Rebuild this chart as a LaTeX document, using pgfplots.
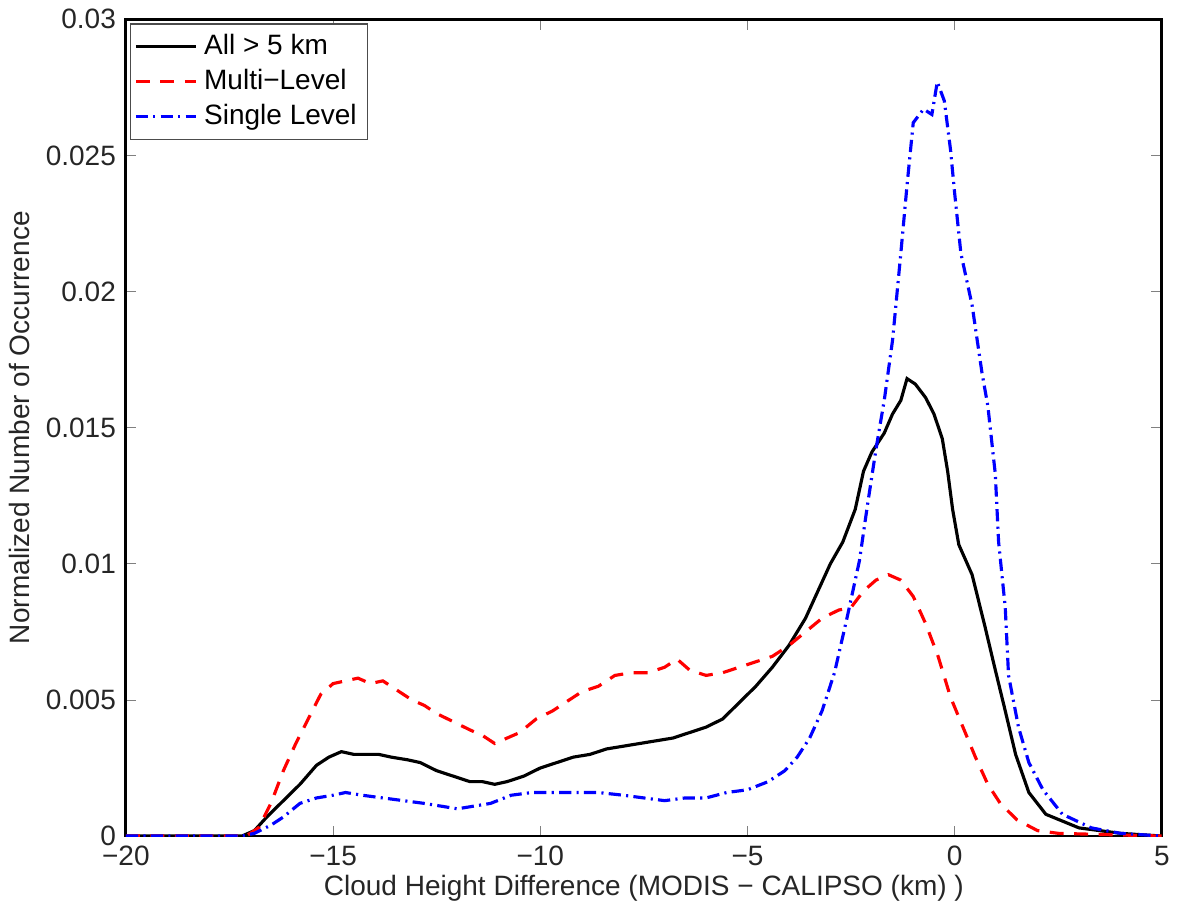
\documentclass[border=0pt]{standalone}
\usepackage{fontspec}
\setmainfont{Liberation Sans}
\usepackage{pgfplots}
\pgfplotsset{compat=1.18}

\begin{document}
\fontsize{8}{9.5}\selectfont
\begin{tikzpicture}
\begin{axis}[
    scale only axis,
    width=10.4cm,
    height=8.2cm,
    xmin=-20, xmax=5,
    ymin=0, ymax=0.03,
    scaled y ticks=false,
    xtick={-20,-15,-10,-5,0,5},
    xticklabels={−20,−15,−10,−5,0,5},
    ytick={0,0.005,0.01,0.015,0.02,0.025,0.03},
    yticklabels={0,0.005,0.01,0.015,0.02,0.025,0.03},
    tick align=inside,
    tick pos=both,
    major tick length=3pt,
    tick label style={font=\fontsize{8}{9.5}\selectfont, text=black!85},
    label style={font=\fontsize{8}{9.5}\selectfont, text=black!85},
    xlabel={Cloud Height Difference (MODIS − CALIPSO (km) )},
    ylabel={Normalized Number of Occurrence},
    xlabel style={yshift=3pt},
    ylabel style={yshift=-1pt},
    axis line style={line width=0.8pt},
    legend style={at={(0.004,0.995)}, anchor=north west, font=\fontsize{8}{9.5}\selectfont,
        draw=black!70, line width=0.4pt, inner sep=1pt, row sep=-1pt},
    legend cell align=left,
    legend image code/.code={\draw[#1] (0cm,0cm) -- (0.6cm,0cm);},
]
% All > 5 km
\addplot[black, line width=0.9pt] coordinates {
(-20,0) (-17.2,0) (-16.9,0.0002) (-16.6,0.0007) (-16.2,0.0013) (-15.8,0.0019)
(-15.4,0.0026) (-15.1,0.0029) (-14.8,0.0031) (-14.5,0.0030) (-14.2,0.0030)
(-13.9,0.0030) (-13.6,0.0029) (-13.2,0.0028) (-12.9,0.0027) (-12.5,0.0024)
(-12.1,0.0022) (-11.7,0.0020) (-11.4,0.0020) (-11.1,0.0019) (-10.8,0.0020)
(-10.4,0.0022) (-10.0,0.0025) (-9.6,0.0027) (-9.2,0.0029) (-8.8,0.0030)
(-8.4,0.0032) (-8.0,0.0033) (-7.6,0.0034) (-7.2,0.0035) (-6.8,0.0036)
(-6.4,0.0038) (-6.0,0.0040) (-5.6,0.0043) (-5.2,0.0049) (-4.8,0.0055)
(-4.4,0.0062) (-4.0,0.0070) (-3.6,0.0080) (-3.3,0.0090) (-3.0,0.0100)
(-2.7,0.0108) (-2.4,0.0120) (-2.2,0.0134) (-2.0,0.0141) (-1.7,0.0148)
(-1.5,0.0155) (-1.3,0.0160) (-1.15,0.0168) (-0.95,0.0166) (-0.7,0.0161)
(-0.5,0.0155) (-0.3,0.0146) (-0.17,0.0134) (-0.05,0.0120) (0.1,0.0107)
(0.42,0.0096) (0.73,0.0077) (0.98,0.0061) (1.22,0.0046) (1.47,0.0030)
(1.79,0.0016) (2.2,0.0008) (3.0,0.0003) (4.0,0.0001) (5,0)
};
% Multi-Level
\addplot[red, line width=0.9pt, dash pattern=on 4pt off 3pt] coordinates {
(-20,0) (-17.1,0) (-16.8,0.0003) (-16.5,0.0012) (-16.2,0.0024) (-15.9,0.0034)
(-15.6,0.0043) (-15.3,0.0052) (-15.0,0.0056) (-14.7,0.0057) (-14.4,0.0058)
(-14.1,0.0056) (-13.8,0.0057) (-13.5,0.0054) (-13.1,0.0050) (-12.8,0.0048)
(-12.5,0.0045) (-12.1,0.0042) (-11.7,0.0039) (-11.4,0.0037) (-11.1,0.0034)
(-10.8,0.0036) (-10.5,0.0038) (-10.1,0.0043) (-9.7,0.0046) (-9.3,0.0050)
(-9.0,0.0053) (-8.6,0.0055) (-8.2,0.0059) (-7.8,0.0060) (-7.4,0.0060)
(-7.0,0.0062) (-6.7,0.0065) (-6.4,0.0061) (-6.0,0.0059) (-5.6,0.0060)
(-5.2,0.0062) (-4.8,0.0064) (-4.4,0.0066) (-4.0,0.0070) (-3.6,0.0075)
(-3.2,0.0080) (-2.8,0.0083) (-2.5,0.0084) (-2.2,0.0090) (-1.9,0.0094)
(-1.6,0.0096) (-1.3,0.0094) (-1.0,0.0088) (-0.7,0.0078) (-0.4,0.0066)
(-0.1,0.0051) (0.2,0.0040) (0.5,0.0029) (0.8,0.0019) (1.1,0.0012)
(1.5,0.0006) (2.0,0.0002) (2.5,0.0001) (5,0)
};
% Single Level
\addplot[blue, line width=0.9pt, dash pattern=on 3.5pt off 1.5pt on 0.6pt off 1.5pt] coordinates {
(-20,0) (-17.2,0) (-16.9,0.0001) (-16.5,0.0004) (-16.2,0.0007) (-15.8,0.0012)
(-15.4,0.0014) (-15.0,0.0015) (-14.7,0.0016) (-14.3,0.0015) (-13.8,0.0014)
(-13.3,0.0013) (-12.8,0.0012) (-12.4,0.0011) (-12.0,0.0010) (-11.6,0.0011)
(-11.2,0.0012) (-10.7,0.0015) (-10.2,0.0016) (-9.7,0.0016) (-9.2,0.0016)
(-8.6,0.0016) (-8.0,0.0015) (-7.5,0.0014) (-7.0,0.0013) (-6.5,0.0014)
(-6.0,0.0014) (-5.5,0.0016) (-5.0,0.0017) (-4.5,0.0020) (-4.1,0.0024)
(-3.8,0.0029) (-3.5,0.0036) (-3.2,0.0046) (-2.9,0.0060) (-2.6,0.0080)
(-2.3,0.0101) (-2.1,0.0122) (-1.9,0.0142) (-1.7,0.0160) (-1.5,0.0182)
(-1.3,0.0214) (-1.15,0.0239) (-1.0,0.0262) (-0.75,0.0267) (-0.55,0.0265)
(-0.42,0.0277) (-0.25,0.0270) (-0.1,0.0252) (0.0,0.0236) (0.15,0.0214)
(0.42,0.0195) (0.66,0.0170) (0.8,0.0158) (0.98,0.0133) (1.06,0.0108)
(1.22,0.0084) (1.3,0.0059) (1.54,0.0040) (1.79,0.0027) (2.13,0.0017)
(2.6,0.0008) (3.3,0.0003) (4.0,0.0001) (5,0)
};
\legend{All > 5 km, Multi−Level, Single Level}
\end{axis}
\end{tikzpicture}
\end{document}
